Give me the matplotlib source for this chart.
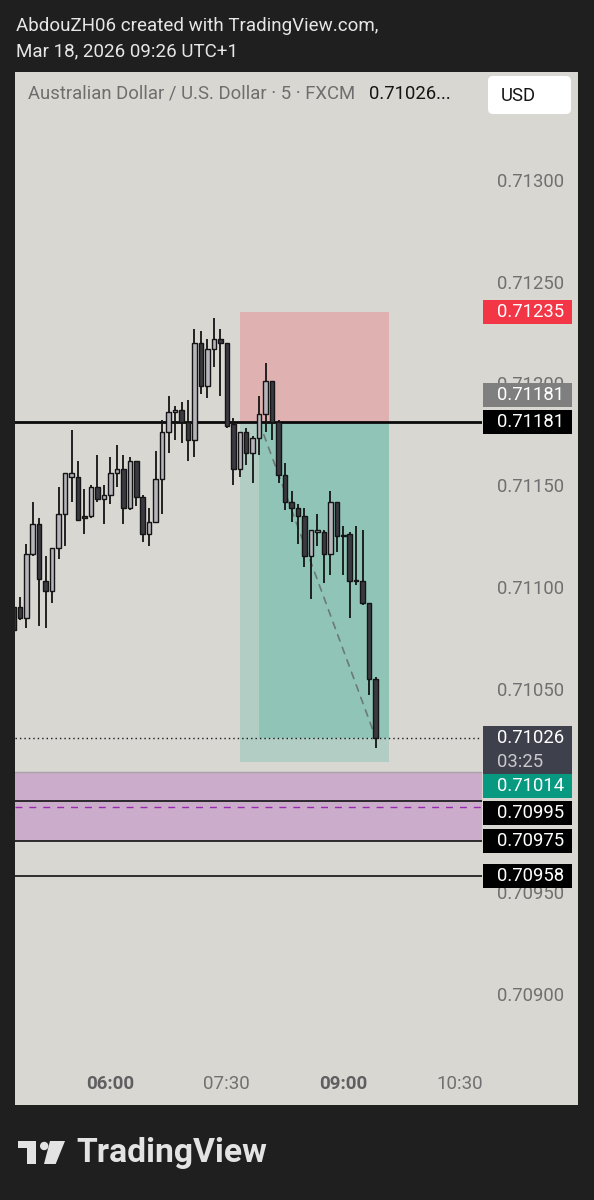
import matplotlib
matplotlib.use('Agg')
import matplotlib.pyplot as plt
import matplotlib.transforms as mtransforms
from matplotlib.patches import Rectangle, FancyBboxPatch, Polygon, Circle
import numpy as np
import pandas as pd

plt.rcParams['font.family'] = ['Roboto', 'DejaVu Sans']

# 5 minute AUD/USD candles, 04:45 .. 09:25
times = pd.date_range('2026-03-18 04:45', '2026-03-18 09:25', freq='5min')
opens = [0.71090, 0.71090, 0.71085, 0.71116, 0.71131, 0.71103, 0.71098, 0.71119,
         0.71136, 0.71154, 0.71154, 0.71135, 0.71135, 0.71149, 0.71143, 0.71145,
         0.71156, 0.71158, 0.71139, 0.71162, 0.71144, 0.71126, 0.71132, 0.71153,
         0.71176, 0.71186, 0.71187, 0.71181, 0.71172, 0.71220, 0.71199, 0.71217,
         0.71222, 0.71220, 0.71180, 0.71158, 0.71176, 0.71166, 0.71173, 0.71185,
         0.71201, 0.71181, 0.71155, 0.71142, 0.71139, 0.71135, 0.71115, 0.71127,
         0.71127, 0.71116, 0.71142, 0.71125, 0.71126, 0.71103, 0.71103, 0.71092,
         0.71055]
highs = [0.71094, 0.71095, 0.71121, 0.71142, 0.71134, 0.71115, 0.71119, 0.71149,
         0.71156, 0.71177, 0.71162, 0.71148, 0.71150, 0.71165, 0.71150, 0.71164,
         0.71170, 0.71165, 0.71164, 0.71162, 0.71145, 0.71139, 0.71167, 0.71182,
         0.71194, 0.71189, 0.71191, 0.71192, 0.71227, 0.71226, 0.71222, 0.71232,
         0.71227, 0.71220, 0.71183, 0.71176, 0.71178, 0.71174, 0.71194, 0.71210,
         0.71201, 0.71182, 0.71161, 0.71147, 0.71141, 0.71139, 0.71128, 0.71136,
         0.71128, 0.71147, 0.71142, 0.71130, 0.71127, 0.71130, 0.71128, 0.71092,
         0.71056]
lows = [0.71078, 0.71084, 0.71080, 0.71115, 0.71081, 0.71080, 0.71092, 0.71114,
        0.71120, 0.71142, 0.71133, 0.71126, 0.71134, 0.71142, 0.71131, 0.71141,
        0.71149, 0.71131, 0.71138, 0.71140, 0.71122, 0.71120, 0.71132, 0.71136,
        0.71166, 0.71172, 0.71171, 0.71162, 0.71164, 0.71195, 0.71193, 0.71208,
        0.71194, 0.71178, 0.71150, 0.71154, 0.71160, 0.71151, 0.71165, 0.71176,
        0.71172, 0.71151, 0.71138, 0.71132, 0.71121, 0.71110, 0.71094, 0.71120,
        0.71102, 0.71106, 0.71117, 0.71106, 0.71085, 0.71101, 0.71091, 0.71047,
        0.71021]
closes = [0.71079, 0.71085, 0.71116, 0.71131, 0.71104, 0.71098, 0.71119, 0.71136,
          0.71156, 0.71156, 0.71133, 0.71134, 0.71149, 0.71143, 0.71145, 0.71156,
          0.71158, 0.71139, 0.71162, 0.71144, 0.71126, 0.71132, 0.71153, 0.71176,
          0.71186, 0.71187, 0.71181, 0.71172, 0.71220, 0.71199, 0.71217, 0.71222,
          0.71220, 0.71179, 0.71158, 0.71176, 0.71166, 0.71173, 0.71185, 0.71201,
          0.71181, 0.71155, 0.71142, 0.71139, 0.71135, 0.71115, 0.71128, 0.71128,
          0.71116, 0.71142, 0.71125, 0.71125, 0.71103, 0.71103, 0.71092, 0.71055,
          0.71026]

price_ticks = [0.70900, 0.70950, 0.71000, 0.71050, 0.71100, 0.71150, 0.71200, 0.71250, 0.71300]
time_ticks = ['06:00', '07:30', '09:00', '10:30']
bold_ticks = ['06:00', '09:00']

# drawings
hline_level = 0.71181
lower_levels = [0.70995, 0.70975, 0.70958]
zone_top, zone_bottom = 0.71009, 0.70975
stop_price, entry_price, target_price = 0.71235, 0.71181, 0.71014
pos_start, entry_time, pos_end = '07:40', '07:55', '09:35'
last_price = 0.71026
countdown = '03:25'

# colours
BG = '#1f1f1f'
PANEL = '#d8d7d2'
BULL = '#b5b5bb'
BEAR = '#3a3a41'
EDGE = '#141414'
AXIS_TXT = '#707070'


def minutes(t):
    if isinstance(t, str):
        h, m = t.split(':')
        return int(h) * 60 + int(m)
    return t.hour * 60 + t.minute


x = np.array([minutes(t) for t in times], dtype=float)
o = np.array(opens)
h = np.array(highs)
l = np.array(lows)
c = np.array(closes)

W, H = 594, 1200
fig = plt.figure(figsize=(W / 100, H / 100), dpi=100)
fig.patch.set_facecolor(BG)

# background layer in pixel coords
bg = fig.add_axes([0, 0, 1, 1], zorder=0)
bg.set_xlim(0, W)
bg.set_ylim(H, 0)
bg.axis('off')
bg.add_patch(Rectangle((15, 72), 563, 1033, fc=PANEL, ec='none'))

bg.text(16, 26, 'AbdouZH06 created with TradingView.com,', color='#e6e6e6',
        fontsize=13.5, va='center', ha='left')
bg.text(16, 51, 'Mar 18, 2026 09:26 UTC+1', color='#e6e6e6',
        fontsize=13.5, va='center', ha='left')

bg.text(28, 94, 'Australian Dollar / U.S. Dollar · 5 · FXCM', color='#6e6e6e',
        fontsize=13.3, va='center', ha='left')
bg.text(369, 94, '%.5f...' % last_price, color='#151515', fontsize=13.3,
        va='center', ha='left')
bg.add_patch(FancyBboxPatch((488, 76), 83, 38, boxstyle='round,pad=0,rounding_size=5',
                            fc='white', ec='none'))
bg.text(501, 96, 'USD', color='#151515', fontsize=13.3, va='center', ha='left')

# TradingView logo
bg.add_patch(Polygon([(18, 1141), (36, 1141), (36, 1164), (27, 1164), (27, 1148), (18, 1148)],
                     closed=True, fc='#e3e3e3', ec='none'))
bg.add_patch(Circle((44.2, 1146), 4.2, fc='#e3e3e3', ec='none'))
bg.add_patch(Polygon([(50, 1141), (65, 1141), (55.7, 1164), (44, 1164)],
                     closed=True, fc='#e3e3e3', ec='none'))
bg.text(76, 1153, 'TradingView', color='#e3e3e3', fontsize=24.2, fontweight='bold',
        va='center', ha='left')

# main chart
ax = fig.add_axes([15 / W, (H - 1105) / H, (482 - 15) / W, (1105 - 72) / H], zorder=1)
ax.set_facecolor('none')
ax.set_xlim(286.3, 647.2)
ax.set_ylim(0.7084545, 0.7135307)
for s in ax.spines.values():
    s.set_visible(False)

px = (0.7135307 - 0.7084545) / 1033.0  # price per pixel
blend = mtransforms.blended_transform_factory(ax.transAxes, ax.transData)
tblend = mtransforms.blended_transform_factory(ax.transData, ax.transAxes)

# long/short position tool
x0, xe, x1 = minutes(pos_start), minutes(entry_time), minutes(pos_end)
ax.add_patch(Rectangle((x0, entry_price), x1 - x0, stop_price - entry_price,
                       fc='#dfb1b0', ec='none', zorder=1))
ax.add_patch(Rectangle((x0, target_price), x1 - x0, entry_price - target_price,
                       fc='#b1cdc4', ec='none', zorder=1))
ax.add_patch(Rectangle((xe, last_price), x1 - xe, entry_price - last_price,
                       fc='#8fc4b6', ec='none', zorder=1.1))

# zone and levels
ax.axhspan(zone_bottom, zone_top, fc='#cbadcb', ec='none', zorder=1)
ax.axhline(zone_top, color='#a9a3a9', lw=1.0, zorder=1.2)
ax.axhline((zone_top + zone_bottom) / 2, color='#9c27b0', lw=1.0, ls=(0, (5, 5)), zorder=1.2)
for lv in lower_levels:
    ax.axhline(lv, color='#111111', lw=1.2, zorder=1.3)
ax.axhline(hline_level, color='#0a0a0a', lw=2.0, zorder=1.4)
ax.axhline(last_price, color='#1a1a1a', lw=1.0, ls=(0, (1, 2.2)), zorder=1.4)

ax.annotate('', xy=(x[-1], last_price), xytext=(xe, entry_price),
            arrowprops=dict(arrowstyle='->', color='#6c7a76', lw=1.2, ls=(0, (4, 4)),
                            shrinkA=0, shrinkB=0), zorder=1.5)

# candles
up = c > o
body_lo = np.minimum(o, c)
body_h = np.maximum(np.abs(c - o), 0.0000045)
ax.vlines(x, l, h, color=EDGE, lw=1.3, zorder=2)
ax.bar(x, body_h, bottom=body_lo, width=3.5, color=np.where(up, BULL, BEAR),
       edgecolor=EDGE, linewidth=1.0, zorder=3)

# price scale
ax.yaxis.tick_right()
ax.set_yticks(price_ticks)
ax.set_yticklabels(['%.5f' % p for p in price_ticks])
ax.tick_params(axis='y', length=0, pad=10.8, labelsize=13.3, labelcolor=AXIS_TXT)

# time scale (drawn inside the panel, clipped at the price scale)
ax.set_xticks([])
for t in time_ticks:
    bold = t in bold_ticks
    ax.text(minutes(t), 0.0203, t, transform=tblend, ha='center', va='center',
            fontsize=13.5, color='#5f5f62' if bold else AXIS_TXT,
            fontweight='bold' if bold else 'normal', clip_on=True)


# price labels on the scale
def price_label(price, fc, shift=0, sub=None, tc='white'):
    yc = price - shift * px
    top = yc + 12 * px
    hgt = 24 * px if sub is None else 49 * px
    ax.add_patch(Rectangle((1.002, top - hgt), 0.191, hgt, transform=blend,
                           fc=fc, ec='none', clip_on=False, zorder=6))
    ax.text(1.032, yc, '%.5f' % price, transform=blend, color=tc, fontsize=13.3,
            va='center', ha='left', clip_on=False, zorder=7)
    if sub is not None:
        ax.text(1.032, yc - 24 * px, sub, transform=blend, color='#c9c9cc',
                fontsize=13.3, va='center', ha='left', clip_on=False, zorder=7)


price_label(stop_price, '#f23645')
price_label(entry_price, '#7f7f7f', shift=-27)
price_label(hline_level, '#000000')
price_label(last_price, '#3e404c', sub=countdown)
price_label(target_price, '#089981', shift=24)
price_label(lower_levels[0], '#000000', shift=12)
price_label(lower_levels[1], '#000000')
price_label(lower_levels[2], '#000000')

fig.savefig('out.png', dpi=100, facecolor=BG)
